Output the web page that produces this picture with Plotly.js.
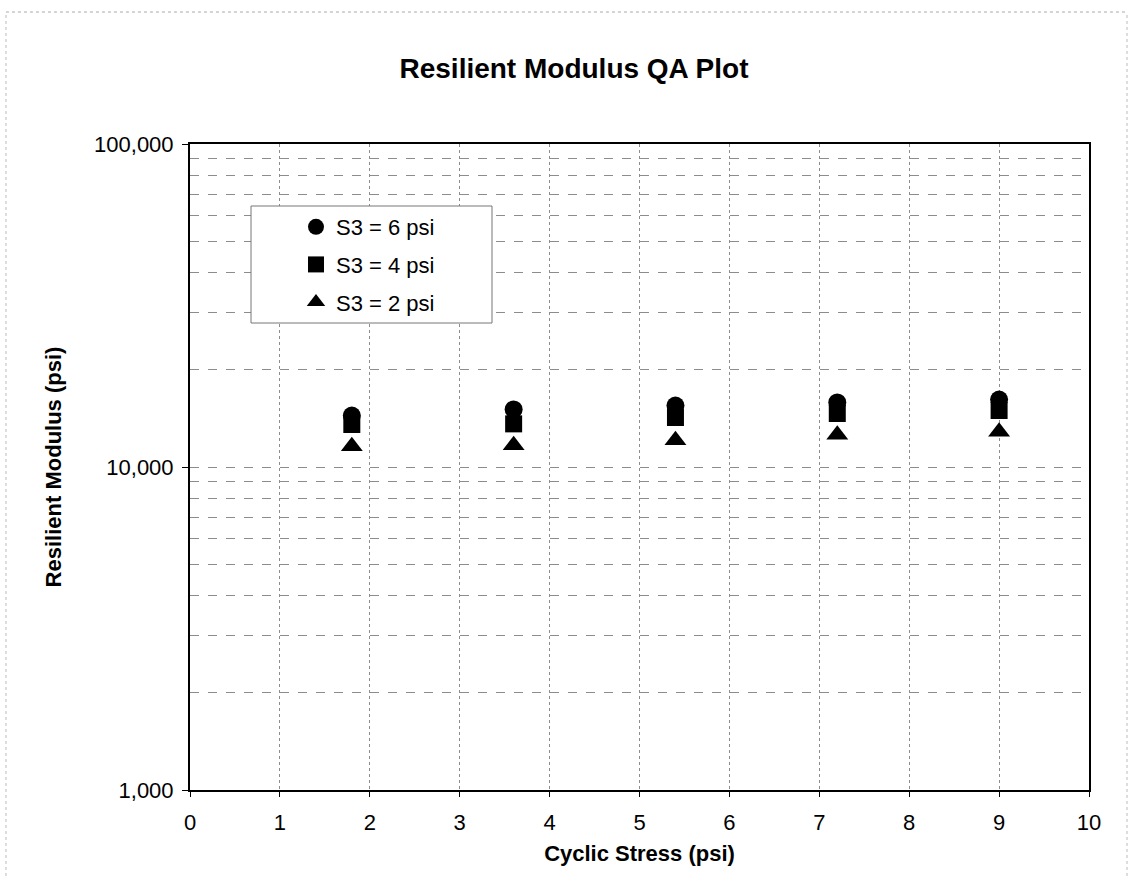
<!DOCTYPE html>
<html>
<head>
<meta charset="utf-8">
<script src="https://cdn.plot.ly/plotly-3.0.1.min.js"></script>
<style>html,body{margin:0;padding:0;background:#fff;}#chart{width:1131px;height:876px;}</style>
</head>
<body>
<div id="chart"></div>
<script>
// Data
var cyclicStress = [1.8, 3.6, 5.4, 7.2, 9.0];
var modulusS3_6 = [14430, 15070, 15500, 15840, 16180];
var modulusS3_4 = [13540, 13600, 14230, 14640, 14960];
var modulusS3_2 = [11590, 11680, 12100, 12585, 12855];
var seriesNames = ['S3 = 6 psi', 'S3 = 4 psi', 'S3 = 2 psi'];
var xTickVals = [0, 1, 2, 3, 4, 5, 6, 7, 8, 9, 10];
var yTickVals = [1000, 10000, 100000];
var yTickText = ['1,000', '10,000', '100,000'];
var yMinorVals = [2000, 3000, 4000, 5000, 6000, 7000, 8000, 9000,
                  20000, 30000, 40000, 50000, 60000, 70000, 80000, 90000];

var FONT = 'Arial, "Liberation Sans", sans-serif';

function mk(y, name, symbol, size, grp) {
  return {
    x: cyclicStress, y: y, name: name, type: 'scatter', mode: 'markers',
    legendgroup: grp,
    marker: {symbol: symbol, size: size, color: '#000', line: {width: 0}},
    hoverinfo: 'x+y+name'
  };
}

var data = [
  mk(modulusS3_6, seriesNames[0], 'circle', 18, 'a'),
  mk(modulusS3_4, seriesNames[1], 'square', 17, 'b'),
  mk(modulusS3_2, seriesNames[2], 'triangle-up', 19, 'c')
];

var layout = {
  width: 1131, height: 876,
  paper_bgcolor: '#fff', plot_bgcolor: '#fff',
  margin: {l: 190, r: 42, t: 144, b: 86},
  font: {family: FONT, color: '#000', size: 22},
  title: {
    text: '<b>Resilient Modulus QA Plot</b>',
    font: {family: FONT, size: 28, color: '#000'},
    x: 0.5075, xref: 'container', xanchor: 'center',
    y: 0.922, yref: 'container', yanchor: 'middle'
  },
  xaxis: {
    range: [0, 10], tickvals: xTickVals, ticktext: xTickVals.map(String),
    showline: true, linecolor: '#000', linewidth: 2, mirror: true,
    ticks: 'outside', ticklen: 5, tickcolor: '#000', tickwidth: 1,
    ticklabelstandoff: 7,
    tickfont: {family: FONT, size: 22, color: '#000'},
    showgrid: true, gridcolor: '#8c8c8c', gridwidth: 1, griddash: 'dot',
    zeroline: false,
    title: {text: '<b>Cyclic Stress (psi)</b>', font: {family: FONT, size: 22, color: '#000'}, standoff: 11}
  },
  yaxis: {
    type: 'log', range: [3, 5],
    tickvals: yTickVals, ticktext: yTickText,
    showline: true, linecolor: '#000', linewidth: 2, mirror: true,
    ticks: 'outside', ticklen: 6, tickcolor: '#000', tickwidth: 1,
    ticklabelstandoff: 4,
    tickfont: {family: FONT, size: 22, color: '#000'},
    showgrid: true, gridcolor: '#8c8c8c', gridwidth: 1, griddash: 'dash',
    minor: {tickvals: yMinorVals, showgrid: true, gridcolor: '#8c8c8c', gridwidth: 1, griddash: 'dash', ticks: ''},
    zeroline: false,
    title: {text: '<b>Resilient Modulus (psi)</b>', font: {family: FONT, size: 22, color: '#000'}, standoff: 26}
  },
  showlegend: true,
  legend: {
    x: 0.1179, xanchor: 'left', y: 0.904, yanchor: 'top',
    bgcolor: 'rgba(0,0,0,0)', borderwidth: 0,
    tracegroupgap: 6,
    font: {family: FONT, size: 22, color: '#000'}
  },
  shapes: [
    // legend frame
    {type: 'rect', xref: 'paper', yref: 'paper', layer: 'above',
     x0: (251 - 190) / 899, x1: (492 - 190) / 899,
     y0: (790 - 323) / 646, y1: (790 - 206) / 646,
     fillcolor: '#fff', line: {color: '#777', width: 1}},
    // faint outer page frame (scan)
    {type: 'line', xref: 'paper', yref: 'paper', x0: -0.2047, x1: 1.0423, y0: 1.2043, y1: 1.2043,
     line: {color: '#aaa', width: 1, dash: 'dot'}},
    {type: 'line', xref: 'paper', yref: 'paper', x0: -0.2047, x1: -0.2047, y0: -0.1331, y1: 1.2043,
     line: {color: '#bbb', width: 1, dash: 'dot'}},
    {type: 'line', xref: 'paper', yref: 'paper', x0: 1.0423, x1: 1.0423, y0: -0.1331, y1: 1.2043,
     line: {color: '#bbb', width: 1, dash: 'dot'}}
  ]
};

Plotly.newPlot('chart', data, layout, {displayModeBar: false, staticPlot: true});
</script>
</body>
</html>
